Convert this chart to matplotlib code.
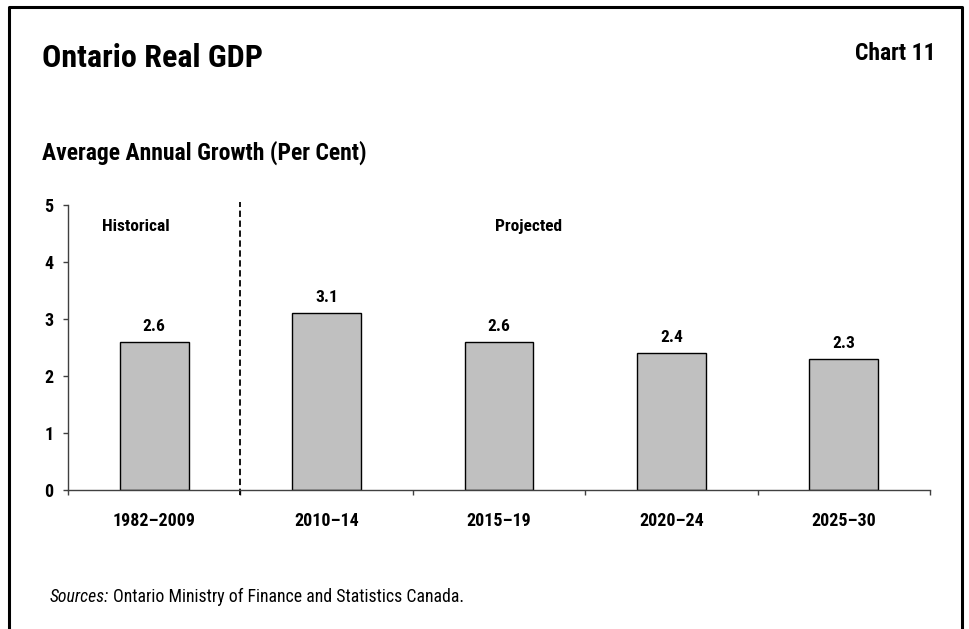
import matplotlib
matplotlib.use("Agg")
import matplotlib.pyplot as plt
from matplotlib import font_manager
from matplotlib.lines import Line2D

# Ontario real GDP, average annual growth (%)
periods = ["1982–2009", "2010–14", "2015–19", "2020–24", "2025–30"]
growth = [2.6, 3.1, 2.6, 2.4, 2.3]
y_ticks = [0, 1, 2, 3, 4, 5]

# prefer a condensed sans; fall back to a regular one at a smaller size
installed = {f.name for f in font_manager.fontManager.ttflist}
base_font, scale = "Liberation Sans", 0.88
for name in ["Liberation Sans Narrow", "Arial Narrow", "Roboto Condensed", "Open Sans Condensed"]:
    if name in installed:
        base_font, scale = name, 1.0
        break
plt.rcParams["font.family"] = [base_font, "DejaVu Sans"]


def fs(size):
    return size * scale


W, H = 969, 629
fig = plt.figure(figsize=(W / 100, H / 100), dpi=100)

# panel frame, open at the bottom
fig.add_artist(Line2D([9 / W, 9 / W, 962 / W, 962 / W], [0, 1 - 7 / H, 1 - 7 / H, 0],
                      color="black", lw=2.2, transform=fig.transFigure))

fig.text(42 / W, 1 - 67 / H, "Ontario Real GDP", fontsize=fs(23), fontweight="bold", va="baseline")
fig.text(936 / W, 1 - 60 / H, "Chart 11", fontsize=fs(17), fontweight="bold", ha="right", va="baseline")
fig.text(42 / W, 1 - 160 / H, "Average Annual Growth (Per Cent)", fontsize=fs(17),
         fontweight="bold", va="baseline")

ax = fig.add_axes([68 / W, 1 - 490 / H, 862 / W, 285 / H])
x = list(range(len(periods)))
ax.bar(x, growth, width=0.4, color="#c0c0c0", edgecolor="black", linewidth=1)
for xi, v in zip(x, growth):
    ax.annotate(f"{v:.1f}", (xi, v), xytext=(0, 8), textcoords="offset points",
                ha="center", va="baseline", fontsize=fs(12.5), fontweight="bold")

ax.set_xlim(-0.5, len(periods) - 0.5)
ax.set_ylim(0, 5)

for side in ["top", "right"]:
    ax.spines[side].set_visible(False)
for side in ["left", "bottom"]:
    ax.spines[side].set_color("#404040")
    ax.spines[side].set_linewidth(1)

ax.set_yticks(y_ticks)
ax.set_yticklabels([str(t) for t in y_ticks], fontsize=fs(13), fontweight="bold")
ax.tick_params(axis="y", direction="out", length=3.6, width=1, color="#404040", pad=7)

ax.set_xticks(x)
ax.set_xticklabels(periods, fontsize=fs(13), fontweight="bold")
ax.set_xticks([i - 0.5 for i in range(len(periods) + 1)], minor=True)
ax.tick_params(axis="x", which="major", length=0, pad=16)
ax.tick_params(axis="x", which="minor", direction="out", length=3.6, width=1, color="#404040")

# historical / projected split
ax.plot([0.5, 0.5], [-0.09, 5.05], color="black", lw=1.3, linestyle=(0, (3.5, 2)),
        clip_on=False)
ax.text(-0.106, 4.63, "Historical", ha="center", va="center", fontsize=fs(12.5), fontweight="bold")
ax.text(2.17, 4.63, "Projected", ha="center", va="center", fontsize=fs(12.5), fontweight="bold")

# source line: italic lead-in, then plain text
src = fig.text(50 / W, 1 - 602 / H, "Sources:", fontsize=fs(12.8), style="italic", va="baseline")
renderer = fig.canvas.get_renderer()
bb = src.get_window_extent(renderer)
fig.text((bb.x1 + 4) / W, 1 - 602 / H, "Ontario Ministry of Finance and Statistics Canada.",
         fontsize=fs(12.8), va="baseline")

fig.savefig("out.png", dpi=100)
